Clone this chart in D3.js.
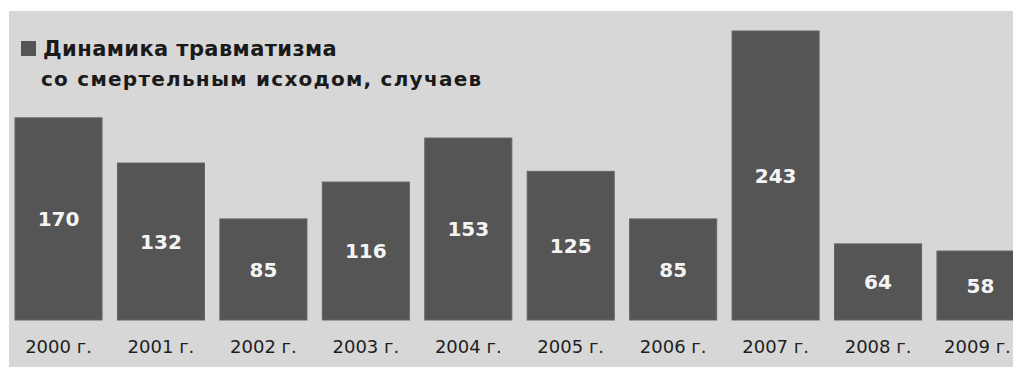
<!DOCTYPE html>
<html>
<head>
<meta charset="utf-8">
<script src="https://cdn.jsdelivr.net/npm/d3@7"></script>
<style>
  body { margin: 0; background: #fff; }
  svg { display: block; }
</style>
</head>
<body>
<div class="content"></div>
<script>
const SVGWIDTH = 1013;
const SVGHEIGHT = 367;

// data
const years = ["2000 г.","2001 г.","2002 г.","2003 г.","2004 г.","2005 г.","2006 г.","2007 г.","2008 г.","2009 г."];
const deaths = [170, 132, 85, 116, 153, 125, 85, 243, 64, 58];
const titleLines = ["Динамика травматизма", "со смертельным исходом, случаев"];

const data = years.map((y, i) => ({year: y, value: deaths[i]}));

const svg = d3.select(".content").append("svg")
    .attr("width", SVGWIDTH).attr("height", SVGHEIGHT);

// gray panel
svg.append("rect").attr("x", 9).attr("y", 11)
    .attr("width", SVGWIDTH - 9).attr("height", SVGHEIGHT - 11)
    .attr("fill", "#d7d7d7");

let x = d3.scaleBand().domain(years).range([7.3, 1031.7]).paddingInner(0.15).paddingOuter(0.075);
let y = d3.scaleLinear().domain([0, d3.max(deaths)]).range([320, 31]);

//bars
svg.append("g").selectAll("rect")
    .data(data)
    .join("rect")
    .attr("x", d => x(d.year))
    .attr("y", d => y(d.value))
    .attr("width", x.bandwidth())
    .attr("height", d => y(0) - y(d.value))
    .attr("fill", "#555555")
    .attr("stroke", "#666")
    .attr("stroke-width", 1);

//values inside the bars
svg.append("g").selectAll("text")
    .data(data)
    .join("text")
    .attr("x", d => x(d.year) + x.bandwidth() / 2)
    .attr("y", d => (y(d.value) + y(0)) / 2)
    .attr("dy", "0.36em")
    .attr("text-anchor", "middle")
    .attr("fill", "#f4f4f4")
    .style("font-family", "DejaVu Sans")
    .style("font-weight", "bold")
    .style("font-size", "20px")
    .text(d => d.value);

//year labels under the bars
let axis = d3.axisBottom(x).tickSize(0).tickPadding(0);
let ax = svg.append("g").attr("transform", "translate(0,340)").call(axis);
ax.select(".domain").remove();
ax.selectAll("text")
    .attr("fill", "#1e1e1e")
    .style("font-family", "DejaVu Sans")
    .style("font-size", "18px");
// the last label sits against the right edge, keep it inside
ax.selectAll(".tick").filter((d, i) => i === years.length - 1)
    .select("text").attr("x", -3);

//title with the legend square
svg.append("rect").attr("x", 21).attr("y", 41).attr("width", 15).attr("height", 15).attr("fill", "#555555");
svg.append("g").selectAll("text")
    .data(titleLines)
    .join("text")
    .attr("x", (d, i) => i === 0 ? 43 : 41)
    .attr("y", (d, i) => i === 0 ? 56 : 86)
    .attr("fill", "#1a1a1a")
    .style("font-family", "DejaVu Sans")
    .style("font-weight", "bold")
    .style("font-size", (d, i) => i === 0 ? "21px" : "20px")
    .style("letter-spacing", (d, i) => i === 0 ? "0.4px" : "1.25px")
    .text(d => d);
</script>
</body>
</html>
